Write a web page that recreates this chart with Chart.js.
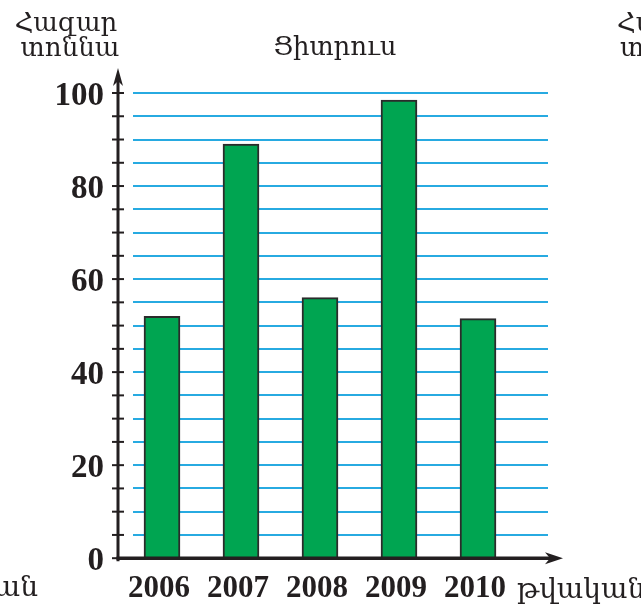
<!DOCTYPE html>
<html>
<head>
<meta charset="utf-8">
<script src="https://cdn.jsdelivr.net/npm/chart.js@4.4.1/dist/chart.umd.min.js"></script>
<style>
  html, body { margin: 0; padding: 0; background: #ffffff; }
  #wrap { width: 641px; height: 607px; position: relative; }
</style>
</head>
<body>
<div id="wrap"><canvas id="c" width="641" height="607"></canvas></div>
<script>
// ---- data ----
const years = [2006, 2007, 2008, 2009, 2010];
const values = [52, 89, 56, 98.5, 51.5];
const yTickLabels = [0, 20, 40, 60, 80, 100];
const yAxisTitle = ['Հազար', 'տոննա'];
const chartTitle = 'Ցիտրուս';
const xAxisTitle = 'թվական';

const INK = '#231f20';
const ARM_FONT = '"DejaVu Serif", "DejaVu Sans", serif';
const NUM_FONT = '"Liberation Serif", "Times New Roman", serif';

const decor = {
  id: 'decor',
  afterDatasetsDraw(chart) {
    const { ctx, chartArea: a, scales: { x, y } } = chart;
    const ax = a.left - 15;
    const y0 = y.getPixelForValue(0);
    const yTop = y.getPixelForValue(100);
    ctx.save();
    ctx.strokeStyle = INK;
    ctx.fillStyle = INK;
    ctx.lineWidth = 2;
    y.ticks.forEach(t => {
      const py = y.getPixelForValue(t.value);
      ctx.beginPath();
      ctx.moveTo(ax - 6, py);
      ctx.lineTo(ax + 6, py);
      ctx.stroke();
    });
    ctx.lineWidth = 3;
    ctx.beginPath();
    ctx.moveTo(ax, y0 + 3);
    ctx.lineTo(ax, yTop - 14);
    ctx.stroke();
    const tipY = yTop - 25;
    ctx.beginPath();
    ctx.moveTo(ax, tipY);
    ctx.lineTo(ax + 5, tipY + 18);
    ctx.lineTo(ax, tipY + 13);
    ctx.lineTo(ax - 5, tipY + 18);
    ctx.closePath();
    ctx.fill();
    ctx.lineWidth = 3.5;
    ctx.beginPath();
    ctx.moveTo(ax - 1.5, y0);
    ctx.lineTo(a.right + 6, y0);
    ctx.stroke();
    const tipX = a.right + 15;
    ctx.beginPath();
    ctx.moveTo(tipX, y0);
    ctx.lineTo(tipX - 18, y0 - 6);
    ctx.lineTo(tipX - 13, y0);
    ctx.lineTo(tipX - 18, y0 + 6);
    ctx.closePath();
    ctx.fill();
    ctx.restore();
  },
  afterDraw(chart) {
    const { ctx } = chart;
    ctx.save();
    ctx.fillStyle = INK;
    ctx.textBaseline = 'alphabetic';
    ctx.font = '26px ' + ARM_FONT;
    ctx.textAlign = 'center';
    ctx.fillText(yAxisTitle[0], 66, 31);
    ctx.fillText(yAxisTitle[1], 70, 56);
    ctx.fillText(chartTitle, 335, 55);
    ctx.textAlign = 'left';
    ctx.fillText(yAxisTitle[0], 617, 31);
    ctx.fillText(yAxisTitle[1], 620, 56);
    ctx.font = '28px ' + ARM_FONT;
    ctx.fillText(xAxisTitle, 517, 598);
    ctx.textAlign = 'right';
    ctx.fillText(xAxisTitle, 38, 596);
    ctx.restore();
  }
};

new Chart(document.getElementById('c'), {
  type: 'bar',
  data: {
    datasets: [{
      data: years.map((yr, i) => ({ x: yr, y: values[i] })),
      backgroundColor: '#00a551',
      borderColor: '#2b2b2b',
      borderWidth: 2,
      borderSkipped: 'bottom',
      barThickness: 36
    }]
  },
  options: {
    responsive: false,
    animation: false,
    devicePixelRatio: 1,
    layout: { padding: { left: 0, right: 93, top: 93, bottom: 0 } },
    plugins: { legend: { display: false }, tooltip: { enabled: false }, title: { display: false } },
    scales: {
      x: {
        type: 'linear',
        offset: false,
        min: 2005.633,
        max: 2010.886,
        afterBuildTicks: (s) => { s.ticks = years.map(v => ({ value: v })); },
        afterFit: (s) => { s.height = 46; },
        grid: { display: false, drawTicks: false },
        border: { display: false },
        ticks: {
          autoSkip: false,
          maxRotation: 0,
          padding: 12,
          labelOffset: -3,
          color: INK,
          font: { family: NUM_FONT, size: 31, weight: 'bold' },
          callback: (v) => String(v)
        }
      },
      y: {
        type: 'linear',
        min: 0,
        max: 100,
        afterFit: (s) => { s.width = 133; },
        grid: { display: true, drawTicks: false, color: '#27aae1', lineWidth: 2 },
        border: { display: false },
        ticks: {
          stepSize: 5,
          autoSkip: false,
          padding: 29,
          labelOffset: 3,
          color: INK,
          font: { family: NUM_FONT, size: 33, weight: 'bold' },
          callback: (v) => (yTickLabels.includes(v) ? String(v) : '')
        }
      }
    }
  },
  plugins: [decor]
});
</script>
</body>
</html>
